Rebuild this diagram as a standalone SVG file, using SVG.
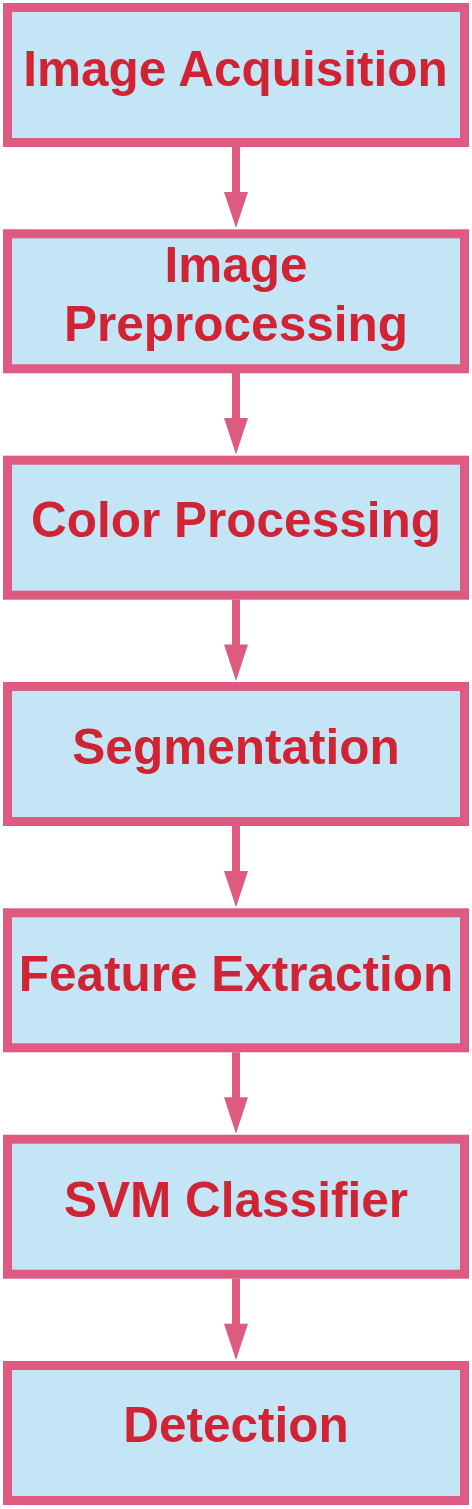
<svg xmlns="http://www.w3.org/2000/svg" width="472" height="1509" viewBox="0 0 472 1509">
<defs>
<style>
.box{fill:#c4e5f6;stroke:#df5a80;stroke-width:9}
.lbl{font-family:"Liberation Sans",Arial,sans-serif;font-weight:bold;font-size:49.5px;fill:#d02434;text-anchor:middle}
.shaft{stroke:#df5a80;stroke-width:8;fill:none}
.head{fill:#df5a80}
</style>
</defs>
<rect width="472" height="1509" fill="#ffffff"/>
<g id="connectors">
<line class="shaft" x1="236" y1="147" x2="236" y2="193"/>
<polygon class="head" points="224,192 248,192 236,228"/>
<line class="shaft" x1="236" y1="373" x2="236" y2="419"/>
<polygon class="head" points="224,418 248,418 236,454.5"/>
<line class="shaft" x1="236" y1="599.5" x2="236" y2="645.5"/>
<polygon class="head" points="224,644.5 248,644.5 236,681"/>
<line class="shaft" x1="236" y1="826" x2="236" y2="872"/>
<polygon class="head" points="224,871 248,871 236,907.3"/>
<line class="shaft" x1="236" y1="1052.3" x2="236" y2="1098.3"/>
<polygon class="head" points="224,1097.3 248,1097.3 236,1133.7"/>
<line class="shaft" x1="236" y1="1278.7" x2="236" y2="1324.7"/>
<polygon class="head" points="224,1323.7 248,1323.7 236,1360"/>
</g>
<g id="node-acquisition">
<rect class="box" x="7.5" y="7.5" width="457" height="135"/>
<text class="lbl" x="235.5" y="86">Image Acquisition</text>
</g>
<g id="node-preprocessing">
<rect class="box" x="7.5" y="233.8" width="457" height="135"/>
<text class="lbl" x="236" y="282">Image</text>
<text class="lbl" x="236" y="341">Preprocessing</text>
</g>
<g id="node-color">
<rect class="box" x="7.5" y="460.2" width="457" height="135"/>
<text class="lbl" x="236" y="537">Color Processing</text>
</g>
<g id="node-segmentation">
<rect class="box" x="7.5" y="686.5" width="457" height="135"/>
<text class="lbl" x="236" y="764">Segmentation</text>
</g>
<g id="node-feature">
<rect class="box" x="7.5" y="912.8" width="457" height="135"/>
<text class="lbl" x="236" y="991">Feature Extraction</text>
</g>
<g id="node-svm">
<rect class="box" x="7.5" y="1139.2" width="457" height="135"/>
<text class="lbl" x="236" y="1217">SVM Classifier</text>
</g>
<g id="node-detection">
<rect class="box" x="7.5" y="1365.5" width="457" height="135"/>
<text class="lbl" x="236" y="1442">Detection</text>
</g>
</svg>
